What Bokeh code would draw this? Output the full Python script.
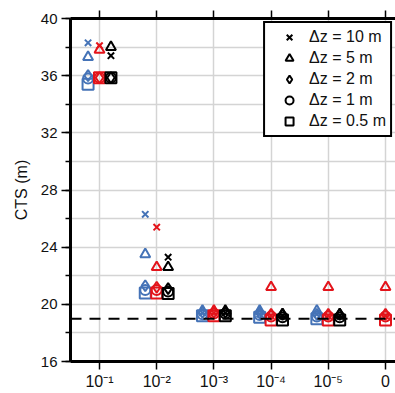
from bokeh.plotting import figure
from bokeh.models import (Range1d, FixedTicker, SingleIntervalTicker, LinearAxis,
                          Span, Legend, LegendItem)
from bokeh.embed import file_html
from bokeh.resources import INLINE

# x-axis categories (threshold values)
categories = ["10⁻¹", "10⁻²", "10⁻³", "10⁻⁴", "10⁻⁵", "0"]
dz_labels = ["Δz = 10 m", "Δz = 5 m", "Δz = 2 m", "Δz = 1 m", "Δz = 0.5 m"]

# CTS (m) per vertical resolution, one list per colour series
blue_dz10 = [38.3, 26.3, 19.4, 19.3, 19.3]
blue_dz5 = [37.3, 23.5, 19.55, 19.55, 19.55]
blue_dz2 = [36.0, 21.3, 19.45, 19.4, 19.3]
blue_dz1 = [35.8, 21.0, 19.3, 19.25, 19.15]
blue_dz05 = [35.4, 20.8, 19.2, 19.1, 19.0]

red_dz10 = [38.1, 25.4, 19.4, 19.2, 19.2, 19.2]
red_dz5 = [37.8, 22.6, 19.55, 21.2, 21.2, 21.2]
red_dz2 = [35.85, 21.2, 19.45, 19.3, 19.3, 19.3]
red_dz1 = [35.85, 21.0, 19.35, 19.15, 19.15, 19.15]
red_dz05 = [35.85, 20.8, 19.2, 18.9, 18.9, 18.9]

black_dz10 = [37.4, 23.3, 19.4, 19.2, 19.2]
black_dz5 = [38.0, 22.6, 19.55, 19.3, 19.3]
black_dz2 = [35.85, 21.1, 19.45, 19.3, 19.3]
black_dz1 = [35.85, 20.9, 19.35, 19.1, 19.1]
black_dz05 = [35.85, 20.75, 19.2, 18.9, 18.9]

reference_cts = 19.0

FONT = "Liberation Sans"
markers = ["x", "triangle", "diamond", "circle", "square"]
marker_sizes = [9, 10, 11, 10, 11]

series = [
    ("#4573b7", -0.2, [blue_dz10, blue_dz5, blue_dz2, blue_dz1, blue_dz05]),
    ("#e3141b", 0.0, [red_dz10, red_dz5, red_dz2, red_dz1, red_dz05]),
    ("black", 0.2, [black_dz10, black_dz5, black_dz2, black_dz1, black_dz05]),
]

p = figure(width=395, height=393, output_backend="svg", toolbar_location=None,
           x_range=Range1d(0.493, 6.175), y_range=Range1d(16, 40),
           min_border_left=70, min_border_right=0, min_border_top=18,
           min_border_bottom=32, background_fill_color="white",
           border_fill_color="white", outline_line_color=None)

ticks = list(range(1, len(categories) + 1))

# axes
p.xaxis.ticker = FixedTicker(ticks=ticks)
p.xaxis.major_label_overrides = {i + 1: c for i, c in enumerate(categories)}
p.yaxis.ticker = SingleIntervalTicker(interval=4, num_minor_ticks=2)
p.yaxis.axis_label = "CTS (m)"

for ax in (p.xaxis[0], p.yaxis[0]):
    ax.axis_line_width = 3
    ax.axis_line_color = "black"
    ax.major_tick_line_width = 1.5
    ax.minor_tick_line_width = 1.5
    ax.major_tick_in = 0
    ax.minor_tick_in = 0
    ax.major_label_text_font = FONT
    ax.major_label_text_color = "#111111"
    ax.axis_label_text_font = FONT
    ax.axis_label_text_color = "#111111"
    ax.axis_label_text_font_style = "normal"

p.xaxis.major_tick_out = 8
p.xaxis.major_label_standoff = 3
p.xaxis.major_label_text_font_size = "16px"
p.yaxis.major_tick_out = 9
p.yaxis.minor_tick_out = 5
p.yaxis.major_label_standoff = 4
p.yaxis.major_label_text_font_size = "15px"
p.yaxis.axis_label_text_font_size = "16px"
p.yaxis.axis_label_standoff = 8

# top frame edge with outward ticks, no labels
top_axis = LinearAxis(ticker=FixedTicker(ticks=ticks),
                      major_label_overrides={t: "" for t in ticks},
                      axis_line_width=3, major_tick_out=8, major_tick_in=0,
                      minor_tick_out=0, minor_tick_in=0,
                      major_tick_line_width=1.5, major_label_standoff=0)
p.add_layout(top_axis, "above")

# grid
p.xgrid.ticker = FixedTicker(ticks=ticks)
p.ygrid.ticker = SingleIntervalTicker(interval=2)
for g in (p.xgrid[0], p.ygrid[0]):
    g.grid_line_color = "#d4d4d4"
    g.grid_line_width = 1.5

# reference level
p.add_layout(Span(location=reference_cts, dimension="width", line_color="black",
                  line_width=2, line_dash="11 8"))

# data markers; keep the black renderers for the legend
legend_renderers = [None] * len(markers)
for color, offset, lists in series:
    for k in reversed(range(len(markers))):
        vals = lists[k]
        xs = [i + 1 + offset for i in range(len(vals))]
        r = p.scatter(xs, vals, marker=markers[k], size=marker_sizes[k],
                      line_color=color, fill_color=None, line_width=2)
        if color == "black":
            legend_renderers[k] = r

items = [LegendItem(label=lbl, renderers=[r], index=0)
         for lbl, r in zip(dz_labels, legend_renderers)]

legend = Legend(items=items, location="top_right", margin=3, padding=4,
                glyph_width=40, glyph_height=20, label_height=19, spacing=1,
                label_standoff=0, label_text_font=FONT, label_text_font_size="16px",
                label_text_color="#111111",
                border_line_color="black", border_line_width=2.5, border_line_alpha=1,
                background_fill_color="white", background_fill_alpha=1)
p.add_layout(legend)

open("out.html", "w").write(file_html(p, INLINE))
